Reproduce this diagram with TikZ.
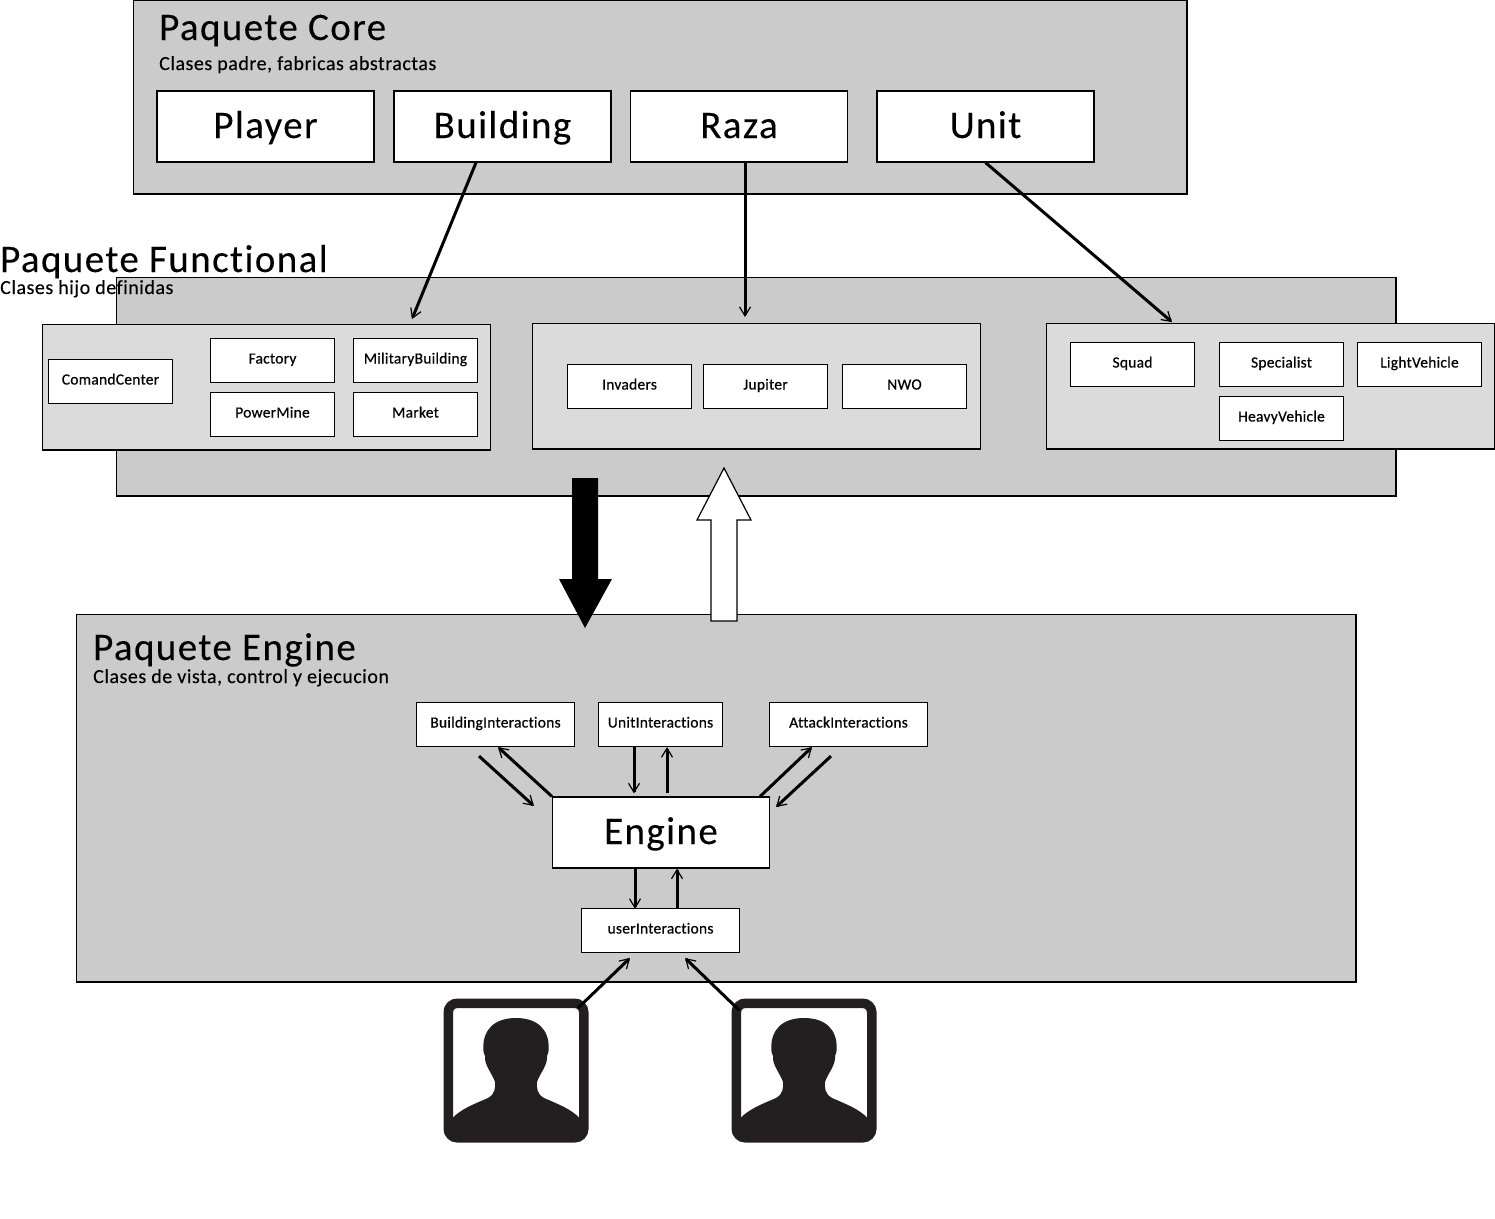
\documentclass[tikz,border=0pt]{standalone}
\usepackage{fontspec}
\setmainfont{Carlito}[Ligatures=NoCommon]
\newfontfamily\ttlfont{Carlito}[LetterSpace=3.6,Ligatures=NoCommon,FakeBold=0.15]
\newfontfamily\subfont{Carlito}[LetterSpace=2.6,Ligatures=NoCommon,FakeBold=0.2]
\newfontfamily\smallfont{Carlito}[LetterSpace=1.6,Ligatures=NoCommon,FakeBold=0.5]
\usetikzlibrary{arrows.meta}
\definecolor{pk}{HTML}{CBCBCB}
\definecolor{sub}{HTML}{DBDBDB}
\definecolor{ink}{HTML}{231F20}
\tikzset{
 x=1pt,y=-1pt,
 pkg/.style={draw=black,line width=1.2pt,fill=pk},
 panel/.style={draw=black,line width=1.2pt,fill=sub},
 big/.style={draw=black,line width=1.2pt,fill=white,minimum width=217pt,minimum height=71pt,inner sep=0pt,font=\ttlfont\fontsize{39}{39}\selectfont,text height=28pt,text depth=5pt},
 small/.style={draw=black,line width=1.2pt,fill=white,minimum width=124pt,minimum height=44pt,inner sep=0pt,font=\smallfont\fontsize{15.5}{16}\selectfont,text height=14pt,text depth=8pt},
 wide/.style={small,minimum width=158pt},
 ttl/.style={anchor=base west,inner sep=0pt,font=\ttlfont\fontsize{39}{39}\selectfont},
 subt/.style={anchor=base west,inner sep=0pt,font=\subfont\fontsize{20}{20}\selectfont},
 conn/.style={line width=3pt,-{Straight Barb[length=9pt,width=11pt,line width=1.2pt]}},
 frame/.style={draw=ink,fill=white,line width=9.5pt,rounded corners=9pt,minimum width=135.5pt,minimum height=134.5pt,inner sep=0pt,outer sep=0pt},
}
\newcommand{\silh}[1]{%
 \fill[ink,shift={(#1)}] (0,-52) .. controls (22,-52) and (33,-40) .. (32.7,-22)
  .. controls (32.7,-18) and (32,-16) .. (31,-14) .. controls (32,-5) and (24,3) .. (21,12)
  .. controls (20.5,18) and (21,24) .. (28,28) .. controls (42,34) and (55,39) .. (63.5,48)
  -- (63.5,66) -- (-63.5,66) -- (-63.5,48)
  .. controls (-55,39) and (-42,34) .. (-28,28) .. controls (-21,24) and (-20.5,18) .. (-21,12)
  .. controls (-24,3) and (-32,-5) .. (-31,-14) .. controls (-32,-16) and (-32.7,-18) .. (-32.7,-22)
  .. controls (-33,-40) and (-22,-52) .. (0,-52) -- cycle;}
\begin{document}
\begin{tikzpicture}
\useasboundingbox (0,0) rectangle (1495,1218);
\fill[white] (0,0) rectangle (1495,1218);
% packages
\draw[pkg] (133.5,0.5) rectangle (1187,194);
\draw[pkg] (116.5,277.5) rectangle (1396,496);
\draw[pkg] (76.5,614.5) rectangle (1356,982);
\draw[panel] (42.5,324.5) rectangle (490.5,450);
\draw[panel] (532.5,323.5) rectangle (980.5,449);
\draw[panel] (1046.5,323.5) rectangle (1494.5,449);
% titles
\node[ttl] (tCore) at (159,40) {Paquete Core};
\node[subt] (sCore) at (159,70) {Clases padre, fabricas abstractas};
\node[ttl] (tFun) at (0,272) {Paquete Functional};
\node[subt] (sFun) at (0,294) {Clases hijo definidas};
\node[ttl] (tEng) at (93,660) {Paquete Engine};
\node[subt] (sEng) at (93,683) {Clases de vista, control y ejecucion};
% core
\node[big] (Player) at (265.5,126.5) {Player};
\node[big] (Building) at (502.5,126.5) {Building};
\node[big] (Raza) at (739,126.5) {Raza};
\node[big] (Unit) at (985.5,126.5) {Unit};
% functional
\node[small] (ComandCenter) at (110.5,381.5) {ComandCenter};
\node[small] (Factory) at (272.5,360.5) {Factory};
\node[small] (MilitaryBuilding) at (415.5,360.5) {MilitaryBuilding};
\node[small] (PowerMine) at (272.5,414.5) {PowerMine};
\node[small] (Market) at (415.5,414.5) {Market};
\node[small] (Invaders) at (629.5,386.5) {Invaders};
\node[small] (Jupiter) at (765.5,386.5) {Jupiter};
\node[small] (NWO) at (904.5,386.5) {NWO};
\node[small] (Squad) at (1132.5,364.5) {Squad};
\node[small] (Specialist) at (1281.5,364.5) {Specialist};
\node[small] (LightVehicle) at (1419.5,364.5) {LightVehicle};
\node[small] (HeavyVehicle) at (1281.5,418.5) {HeavyVehicle};
% engine
\node[wide] (BuildingI) at (495.5,724.5) {BuildingInteractions};
\node[small] (UnitI) at (660.5,724.5) {UnitInteractions};
\node[wide] (AttackI) at (848.5,724.5) {AttackInteractions};
\node[big] (Engine) at (661,832.5) {Engine};
\node[wide] (UserI) at (660.5,930.5) {userInteractions};
% users
\node[frame] (userA) at (516,1070.5) {};
\node[frame] (userB) at (804,1070.5) {};
\silh{516,1070}
\silh{804,1070}
% free connector ends
\coordinate (fBuilding) at (412,319);
\coordinate (fRaza) at (745,317);
\coordinate (fUnit) at (1172,322);
\coordinate (fBE) at (534,806);
\coordinate (fAE) at (776,807);
\coordinate (fUA) at (630,958);
\coordinate (fUB) at (685,958);
% connectors
\draw[conn] ([xshift=-26.5pt]Building.south) -- (fBuilding);
\draw[conn] ([xshift=6pt]Raza.south) -- (fRaza);
\draw[conn] (Unit.south) -- (fUnit);
\draw[conn] ([xshift=-16.5pt,yshift=-9pt]BuildingI.south) -- (fBE);
\draw[conn] (Engine.north west) -- ([xshift=2.5pt]BuildingI.south);
\draw[conn] ([xshift=-26.5pt]UnitI.south) -- ([xshift=-27pt,yshift=3pt]Engine.north);
\draw[conn] ([xshift=6pt,yshift=3pt]Engine.north) -- ([xshift=6.5pt]UnitI.south);
\draw[conn] ([xshift=-10pt]Engine.north east) -- ([xshift=-36.5pt]AttackI.south);
\draw[conn] ([xshift=-17.5pt,yshift=-9pt]AttackI.south) -- (fAE);
\draw[conn] ([xshift=-26pt]Engine.south) -- ([xshift=-25.5pt,yshift=-1pt]UserI.north);
\draw[conn] ([xshift=16.5pt]UserI.north) -- ([xshift=16pt]Engine.south);
\draw[conn] ([xshift=-6pt,yshift=-5pt]userA.north east) -- (fUA);
\draw[conn] ([xshift=3pt,yshift=-7pt]userB.north west) -- (fUB);
% big arrows
\fill[black] (572,478) -- (598,478) -- (598,579) -- (612,579) -- (585,628) -- (559,579) -- (572,579) -- cycle;
\draw[black,fill=white,line width=1.2pt] (711,621) -- (737,621) -- (737,520) -- (751,520) -- (724,468) -- (697,520) -- (711,520) -- cycle;
\end{tikzpicture}
\end{document}
